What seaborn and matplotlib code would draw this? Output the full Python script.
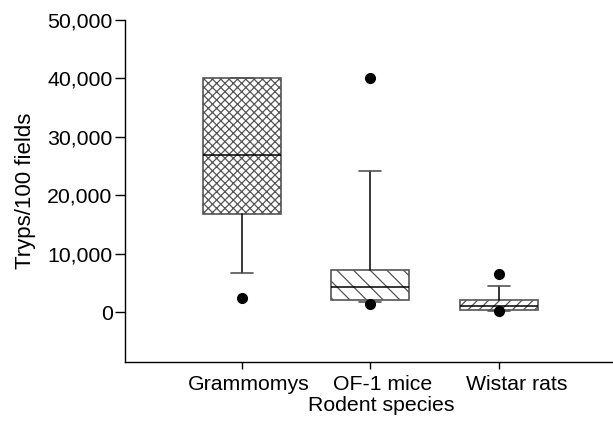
import matplotlib
matplotlib.use("Agg")
import matplotlib.pyplot as plt
import matplotlib.transforms as mtransforms
import seaborn as sns
from matplotlib.ticker import FuncFormatter

# summary values (Tryps/100 fields)
species = ["Grammomys", "OF-1 mice", "Wistar rats"]
q1 = [16750, 2100, 400]
median = [26950, 4300, 1150]
q3 = [40000, 7250, 2050]
whisker_low = [6650, 1750, 300]
whisker_high = [40000, 24200, 4500]
outliers = [[2400], [1500, 40000], [150, 6550]]
hatches = ["xxxx", "\\\\", "///"]

sns.set_theme(style="ticks")
plt.rcParams["font.family"] = ["Liberation Sans", "DejaVu Sans"]
plt.rcParams["hatch.linewidth"] = 0.9
plt.rcParams["text.color"] = "black"
plt.rcParams["axes.labelcolor"] = "black"
plt.rcParams["xtick.labelcolor"] = "black"
plt.rcParams["ytick.labelcolor"] = "black"

stats = []
for i, name in enumerate(species):
    stats.append({
        "label": name, "q1": q1[i], "med": median[i], "q3": q3[i],
        "whislo": whisker_low[i], "whishi": whisker_high[i], "fliers": outliers[i],
    })

fig = plt.figure(figsize=(6.13, 4.22), dpi=100)
ax = fig.add_axes([0.204, 0.142, 0.796, 0.811])

bp = ax.bxp(
    stats, positions=range(len(species)), widths=0.605, patch_artist=True,
    capwidths=0.17,
    boxprops=dict(facecolor="white", edgecolor="#555555", linewidth=1.2),
    medianprops=dict(color="black", linewidth=1.1),
    whiskerprops=dict(color="black", linewidth=1.1),
    capprops=dict(color="#555555", linewidth=1.2),
    flierprops=dict(marker="o", markerfacecolor="black", markeredgecolor="black",
                    markersize=7),
)
for patch, h in zip(bp["boxes"], hatches):
    patch.set_hatch(h)

ax.set_xlim(-0.906, 2.884)
ax.set_ylim(-8500, 50000)
ax.set_yticks([0, 10000, 20000, 30000, 40000, 50000])
ax.yaxis.set_major_formatter(FuncFormatter(lambda v, p: f"{int(v):,}"))
ax.set_xticks(range(len(species)))
ax.set_xticklabels(species)
ax.tick_params(axis="x", length=5, width=1, labelsize=15.3, pad=4, color="black")
ax.tick_params(axis="y", length=7.5, width=1, labelsize=15.3, pad=1.5, color="black")
ax.set_xlabel("Rodent species", fontsize=15.3, labelpad=1)
ax.xaxis.set_label_coords(0.526, -0.1)
ax.xaxis.label.set_va("top")
ax.set_ylabel("Tryps/100 fields", fontsize=16, labelpad=8)

# the tick labels sit a little right of their ticks in the original
for lab, dx in zip(ax.get_xticklabels(), [7, 12, 18]):
    lab.set_transform(lab.get_transform() +
                      mtransforms.ScaledTranslation(dx / 100, 0, fig.dpi_scale_trans))

sns.despine(ax=ax)
for side in ["left", "bottom"]:
    ax.spines[side].set_color("black")
    ax.spines[side].set_linewidth(1)

fig.savefig("out.png", dpi=100)
